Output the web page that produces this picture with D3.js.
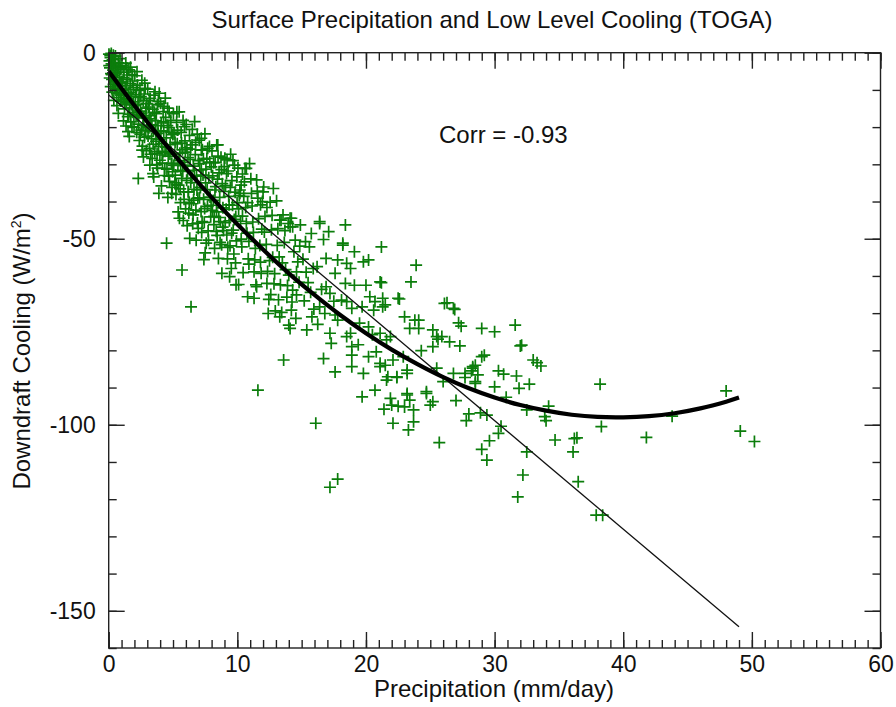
<!DOCTYPE html>
<html>
<head>
<meta charset="utf-8">
<script src="https://cdn.jsdelivr.net/npm/d3@7"></script>
<style>
  body { margin: 0; background: #fff; }
  text { font-family: "Liberation Sans", Arial, Helvetica, sans-serif; fill: #111; }
</style>
</head>
<body>
<div id="chart"></div>
<script>
// axis ticks
var xMajor = [0, 10, 20, 30, 40, 50, 60];
var yMajor = [0, -50, -100, -150];
var xMinor = d3.range(0, 61, 1);
var yMinor = d3.range(0, -161, -10);

// observations [precip (mm/day), downdraft cooling (W/m2)]
var obs = [
  // 0-1
  [0.02,-0.4],[0.06,-2.2],[0.1,-4.1],[0.14,-1.3],[0.18,-5.6],[0.22,-3.0],[0.26,-7.2],[0.3,-1.9],[0.34,-4.7],[0.38,-8.5],
  [0.42,-2.8],[0.46,-6.1],[0.5,-9.6],[0.54,-3.9],[0.58,-7.4],[0.62,-11.0],[0.66,-5.3],[0.7,-8.8],[0.74,-2.7],[0.78,-12.1],
  [0.82,-6.6],[0.86,-10.2],[0.9,-4.4],[0.94,-13.0],[0.98,-7.9],[0.08,-6.8],[0.16,-9.1],[0.28,-10.6],[0.4,-12.8],[0.52,-0.9],
  [0.64,-14.2],[0.75,-16.3],[0.2,-0.2],[0.36,-0.7],[0.88,-1.6],
  [0.04,-3.5],[0.12,-0.8],[0.24,-5.9],[0.32,-3.3],[0.44,-7.8],[0.56,-5.6],[0.68,-9.9],[0.8,-3.6],[0.92,-8.1],[0.96,-11.4],
  // 1-2
  [1.03,-3.4],[1.08,-7.9],[1.13,-12.6],[1.18,-5.2],[1.23,-15.1],[1.28,-9.8],[1.33,-2.8],[1.38,-13.4],[1.43,-7.1],[1.48,-17.2],
  [1.52,-10.9],[1.57,-4.6],[1.62,-14.8],[1.67,-8.3],[1.72,-18.6],[1.77,-11.7],[1.82,-5.9],[1.87,-16.0],[1.92,-9.4],[1.97,-20.1],
  [1.5,-21.2],[1.15,-18.3],[1.35,-19.7],[1.7,-3.9],[1.9,-13.2],[1.25,-11.0],[1.6,-22.5],[1.45,-6.0],
  [1.06,-10.1],[1.16,-6.7],[1.26,-13.8],[1.36,-8.9],[1.46,-12.4],[1.56,-16.5],[1.66,-10.7],[1.76,-14.0],[1.86,-7.6],[1.96,-16.8],
  [1.41,-4.1],[1.81,-19.9],
  // 2-3
  [2.03,-6.2],[2.08,-11.3],[2.13,-16.9],[2.18,-21.4],[2.23,-8.7],[2.28,-13.8],[2.33,-19.2],[2.38,-23.6],[2.43,-10.1],[2.48,-15.7],
  [2.53,-20.8],[2.58,-7.4],[2.63,-25.1],[2.68,-12.9],[2.73,-17.5],[2.78,-22.7],[2.83,-9.6],[2.88,-14.9],[2.93,-26.3],[2.98,-19.9],
  [2.3,-33.8],[2.6,-26.2],[2.7,-28.0],[2.8,-8.2],[2.2,-5.1],[2.5,-11.8],[2.9,-17.0],
  [2.06,-14.2],[2.16,-9.9],[2.26,-17.1],[2.36,-12.0],[2.46,-21.9],[2.56,-16.3],[2.66,-19.5],[2.76,-11.1],[2.86,-21.0],[2.96,-13.7],
  // 3-4
  [3.03,-9.8],[3.08,-14.6],[3.13,-20.2],[3.18,-25.7],[3.23,-12.3],[3.28,-17.8],[3.33,-23.1],[3.38,-28.4],[3.43,-15.2],[3.48,-20.9],
  [3.53,-11.4],[3.58,-26.6],[3.63,-18.3],[3.68,-23.8],[3.73,-30.1],[3.78,-14.0],[3.83,-19.6],[3.88,-25.2],[3.93,-10.9],[3.98,-28.9],
  [3.2,-30.2],[3.6,-10.5],[3.9,-37.8],[3.45,-32.5],[3.7,-16.4],[3.15,-16.9],[3.85,-21.7],
  [3.06,-22.4],[3.16,-12.9],[3.26,-27.3],[3.36,-19.4],[3.46,-24.6],[3.56,-16.0],[3.66,-21.2],[3.76,-27.1],[3.86,-13.1],[3.96,-23.3],
  [3.5,-33.4],[3.8,-31.0],
  // 4-5
  [4.03,-13.6],[4.08,-18.9],[4.13,-24.4],[4.18,-29.7],[4.23,-15.8],[4.28,-21.2],[4.33,-33.0],[4.38,-26.5],[4.43,-17.4],[4.48,-22.9],
  [4.53,-31.3],[4.58,-14.9],[4.63,-27.8],[4.68,-20.1],[4.73,-34.6],[4.78,-24.7],[4.83,-18.2],[4.88,-29.9],[4.93,-36.2],[4.98,-22.0],
  [4.1,-35.8],[4.9,-29.7],[4.9,-37.8],[4.5,-51.2],[4.4,-12.2],[4.7,-16.0],[4.2,-26.8],
  [4.06,-21.0],[4.16,-27.5],[4.26,-18.6],[4.36,-31.1],[4.46,-25.4],[4.56,-19.6],[4.66,-33.2],[4.76,-27.2],[4.86,-21.4],[4.96,-32.0],
  [4.6,-38.9],[4.3,-14.4],
  // 5-6
  [5.03,-16.4],[5.08,-21.8],[5.13,-27.3],[5.18,-32.9],[5.23,-38.1],[5.28,-18.7],[5.33,-24.5],[5.38,-30.2],[5.43,-35.6],[5.48,-15.9],
  [5.53,-27.0],[5.58,-40.3],[5.63,-21.4],[5.68,-33.8],[5.73,-26.1],[5.78,-18.2],[5.83,-37.4],[5.88,-29.5],[5.93,-23.7],[5.98,-42.0],
  [5.3,-15.9],[5.9,-19.9],[5.9,-30.2],[5.7,-58.4],[5.5,-44.5],[5.15,-35.0],[5.6,-31.6],
  [5.06,-30.3],[5.16,-24.1],[5.26,-35.5],[5.36,-20.8],[5.46,-29.0],[5.56,-36.6],[5.66,-24.3],[5.76,-31.9],[5.86,-39.4],[5.96,-26.7],
  [5.4,-42.8],[5.8,-45.1],
  // 6-7
  [6.03,-19.3],[6.08,-25.6],[6.13,-31.8],[6.18,-37.4],[6.23,-43.1],[6.28,-22.2],[6.33,-28.7],[6.38,-34.9],[6.43,-40.6],[6.48,-24.8],
  [6.53,-46.0],[6.58,-30.5],[6.63,-36.7],[6.68,-18.5],[6.73,-27.4],[6.78,-42.3],[6.83,-33.2],[6.88,-21.9],[6.93,-39.1],[6.98,-29.0],
  [6.2,-37.4],[6.3,-49.9],[6.8,-50.4],[6.4,-68.3],[6.5,-20.6],[6.9,-45.8],
  [6.06,-34.3],[6.16,-28.2],[6.26,-40.2],[6.36,-25.9],[6.46,-33.7],[6.56,-43.6],[6.66,-31.6],[6.76,-24.1],[6.86,-36.9],[6.96,-47.2],
  [6.6,-39.6],[6.1,-46.5],
  // 7-8
  [7.03,-23.5],[7.08,-29.8],[7.13,-36.2],[7.18,-42.7],[7.23,-48.3],[7.28,-26.1],[7.33,-32.9],[7.38,-39.4],[7.43,-45.6],[7.48,-21.8],
  [7.53,-35.0],[7.58,-51.2],[7.63,-28.4],[7.68,-41.3],[7.73,-47.9],[7.78,-33.6],[7.83,-25.2],[7.88,-38.8],[7.93,-44.1],[7.98,-30.7],
  [7.2,-23.0],[7.2,-31.5],[7.2,-26.2],[7.7,-25.7],[7.5,-53.8],
  [7.06,-39.0],[7.16,-33.0],[7.26,-45.4],[7.36,-28.6],[7.46,-41.9],[7.56,-31.3],[7.66,-36.8],[7.76,-50.4],[7.86,-29.4],[7.96,-41.0],
  [7.4,-55.6],
  // 8-9
  [8.03,-26.4],[8.08,-33.1],[8.13,-39.7],[8.18,-46.2],[8.23,-52.6],[8.28,-29.5],[8.33,-36.0],[8.38,-42.8],[8.43,-49.1],[8.48,-24.8],
  [8.53,-55.3],[8.58,-32.3],[8.63,-38.9],[8.68,-45.4],[8.73,-28.1],[8.78,-51.6],[8.83,-35.2],[8.88,-41.7],[8.93,-47.8],[8.98,-30.6],
  [8.4,-24.8],[8.8,-59.3],[8.2,-44.0],
  [8.06,-42.4],[8.16,-29.6],[8.26,-36.9],[8.36,-48.0],[8.46,-34.0],[8.56,-44.3],[8.66,-51.0],[8.76,-31.4],[8.86,-46.9],[8.96,-37.3],
  [8.5,-27.8],
  // 9-10
  [9.03,-28.4],[9.08,-35.7],[9.13,-42.1],[9.18,-49.0],[9.23,-55.4],[9.28,-31.8],[9.33,-38.6],[9.38,-45.2],[9.43,-51.9],[9.48,-27.3],
  [9.53,-58.0],[9.58,-34.4],[9.63,-41.0],[9.68,-47.7],[9.73,-54.1],[9.78,-30.2],[9.83,-37.5],[9.88,-44.0],[9.93,-50.6],[9.98,-40.3],
  [9.2,-28.8],[9.4,-60.2],[9.9,-62.4],
  [9.06,-45.7],[9.16,-32.5],[9.26,-52.3],[9.36,-40.9],[9.46,-36.2],[9.56,-48.5],[9.66,-29.0],[9.76,-44.8],[9.86,-56.5],[9.96,-33.4],
  // 10-12
  [10.05,-31.0],[10.15,-38.4],[10.25,-45.3],[10.35,-52.2],[10.45,-59.1],[10.55,-34.7],[10.65,-41.6],[10.75,-48.5],[10.85,-55.4],[10.95,-29.8],
  [10.1,-62.3],[10.3,-35.6],[10.2,-37.8],[10.2,-36.9],[10.6,-31.1],[10.7,-31.1],[10.8,-65.6],[10.4,-43.9],[10.9,-50.7],
  [10.1,-42.0],[10.3,-50.1],[10.5,-38.6],[10.7,-45.9],[10.9,-56.8],[10.4,-32.6],[10.8,-40.3],
  [11.05,-33.9],[11.15,-41.2],[11.25,-48.3],[11.35,-55.7],[11.45,-62.4],[11.55,-37.2],[11.65,-44.6],[11.75,-51.8],[11.85,-59.3],[11.95,-40.0],
  [11.1,-37.8],[11.5,-34.2],[11.5,-62.9],[11.8,-40.9],[11.6,-90.7],[11.3,-66.0],
  [11.2,-45.5],[11.4,-52.6],[11.6,-39.1],[11.8,-56.3],[11.3,-58.9],[11.9,-47.4],
  // 12-14
  [12.05,-36.1],[12.15,-44.0],[12.25,-51.5],[12.35,-58.8],[12.45,-66.3],[12.55,-40.2],[12.65,-47.6],[12.75,-55.0],[12.85,-62.1],[12.95,-69.4],
  [12.0,-37.4],[12.8,-36.5],[12.3,-62.0],[12.4,-70.1],
  [12.1,-48.2],[12.3,-41.6],[12.5,-55.9],[12.7,-43.7],[12.9,-59.4],[12.6,-65.0],
  [13.05,-39.8],[13.15,-47.3],[13.25,-54.9],[13.35,-62.4],[13.45,-69.8],[13.55,-43.6],[13.65,-51.0],[13.75,-58.3],[13.85,-65.7],[13.95,-45.9],
  [13.3,-45.0],[13.3,-71.0],[13.4,-45.0],[13.6,-82.6],
  [13.1,-51.8],[13.5,-56.5],[13.7,-47.8],[13.9,-62.6],[13.2,-66.4],
  // 14-16
  [14.1,-44.5],[14.1,-46.8],[14.3,-46.8],[14.2,-44.5],[14.9,-46.3],[14.5,-50.4],[14.6,-58.9],[14.0,-59.8],[14.3,-63.8],[14.6,-65.1],
  [14.2,-69.2],[14.0,-73.2],[14.1,-74.1],[14.4,-53.5],[14.7,-56.2],[14.8,-61.7],[14.25,-67.0],[14.55,-71.4],[14.85,-52.0],
  [15.3,-50.8],[15.6,-52.2],[15.9,-58.0],[15.8,-71.0],[15.4,-74.5],[15.1,-55.5],[15.5,-61.8],[15.2,-66.7],[15.7,-64.4],[15.95,-68.9],
  [15.35,-59.0],[15.75,-48.6],
  // 16-20
  [16.4,-45.4],[16.4,-45.9],[16.7,-50.2],[16.9,-55.3],[16.9,-62.9],[16.4,-68.3],[16.8,-70.1],[16.7,-82.2],[16.1,-99.6],[16.2,-57.5],
  [16.55,-63.6],[16.25,-73.0],
  [17.1,-48.1],[17.8,-55.7],[17.6,-59.3],[17.2,-64.7],[17.6,-70.5],[17.8,-71.9],[17.2,-75.4],[17.3,-78.1],[17.6,-85.8],[17.2,-116.8],
  [17.8,-114.6],[17.5,-66.8],
  [18.4,-46.3],[18.2,-51.2],[18.2,-51.7],[18.5,-56.6],[18.8,-58.0],[18.1,-66.5],[18.5,-66.9],[18.9,-68.7],[18.5,-76.3],[18.8,-75.4],
  [18.9,-81.3],[18.9,-79.0],[18.9,-84.4],[18.4,-62.0],
  [19.1,-53.5],[19.8,-56.2],[19.1,-62.5],[19.7,-68.3],[19.5,-72.7],[19.8,-86.2],[19.7,-92.5],[19.4,-78.5],
  // 20-24
  [20.2,-55.7],[20.0,-62.5],[20.3,-65.6],[20.7,-66.9],[20.6,-69.2],[20.2,-73.7],[20.2,-81.7],[20.8,-80.4],[20.7,-90.7],[20.5,-75.8],
  [21.2,-52.2],[21.1,-61.6],[21.2,-61.8],[21.3,-66.0],[21.5,-67.8],[21.3,-68.3],[21.1,-75.4],[21.6,-77.2],[21.9,-76.3],[21.1,-83.5],
  [21.6,-88.0],[21.7,-87.1],[21.1,-84.4],[21.5,-84.0],[21.9,-92.9],[21.4,-95.8],
  [22.6,-66.2],[22.5,-66.0],[22.1,-82.6],[22.9,-81.7],[22.4,-87.1],[22.4,-87.3],[22.0,-94.7],[22.5,-95.0],[22.1,-99.6],
  [23.9,-57.1],[23.5,-61.6],[23.0,-71.0],[23.8,-71.9],[24.1,-71.9],[24.1,-74.1],[23.4,-74.1],[23.2,-85.3],[23.2,-86.2],[23.2,-91.6],
  [23.2,-92.0],[23.4,-93.4],[23.7,-96.0],[23.0,-95.2],[23.7,-99.2],[23.3,-101.4],
  // 24-30
  [24.3,-80.1],[24.7,-91.1],[24.7,-91.6],[25.2,-93.8],[25.0,-94.7],[25.2,-74.5],[25.5,-76.3],[25.9,-76.3],[25.6,-77.0],[25.2,-79.0],
  [25.5,-84.8],[25.7,-104.8],[26.0,-88.4],
  [26.3,-67.2],[26.1,-67.4],[26.9,-69.0],[26.8,-68.7],[26.5,-77.7],[26.8,-86.2],[27.0,-93.5],[27.2,-72.6],[27.4,-73.5],[27.3,-78.8],
  [27.7,-86.2],[27.7,-87.3],[27.8,-98.9],[28.0,-97.1],
  [28.3,-84.4],[28.5,-84.0],[28.3,-84.8],[28.2,-85.5],[28.5,-88.4],[28.5,-88.9],[28.7,-86.6],[28.9,-96.8],[29.0,-74.1],[29.0,-81.7],
  [29.2,-81.3],[29.4,-97.4],[29.6,-104.3],[29.0,-106.6],[29.4,-109.5],[30.0,-75.0],[30.3,-85.5],[30.0,-89.8],
  // 30+
  [30.7,-86.4],[30.9,-92.6],[30.5,-100.4],[30.3,-102.3],[31.6,-73.2],[31.7,-86.9],[31.9,-90.2],[31.8,-119.4],[32.0,-78.8],[32.1,-78.6],
  [32.5,-96.0],[32.5,-107.3],[32.2,-113.5],[32.7,-89.1],[33.0,-82.6],[33.3,-83.3],[33.6,-84.2],[33.9,-97.8],[34.0,-98.9],[34.2,-95.0],
  [34.7,-104.1],[36.2,-103.7],[36.1,-107.3],[36.5,-115.3],[36.4,-103.5],[37.9,-124.3],[38.4,-124.3],[38.2,-89.1],[38.3,-100.5],
  [41.8,-103.4],[43.8,-97.7],[48.0,-90.9],[49.1,-101.7],[50.2,-104.5]
];

// linear fit, endpoints
var linFit = [[0, -11.4], [49, -154.3]];

// quadratic fit curve
var quadX = [0, 2, 4, 6, 8, 10, 12, 14, 16, 18, 20, 22, 24, 26, 28, 30, 32, 34, 36, 38, 40, 42, 44, 46, 48, 49];
var quadY = [-5.0, -14.2, -22.9, -31.1, -38.9, -46.1, -52.9, -59.3, -65.1, -70.5, -75.4, -79.8, -83.7, -87.2, -90.2,
             -92.7, -94.7, -96.2, -97.3, -97.9, -98.0, -97.7, -96.9, -95.6, -93.8, -92.7];

var corrText = "Corr = -0.93";

var width = 896, height = 707;
var margin = {left: 108.7, right: 15.5, top: 52.7, bottom: 59};
var pw = width - margin.left - margin.right,
    ph = height - margin.top - margin.bottom;

var svg = d3.select("#chart").append("svg")
    .attr("width", width)
    .attr("height", height);

var x = d3.scaleLinear().domain([0, 60]).range([0, pw]);
var y = d3.scaleLinear().domain([-160, 0]).range([ph, 0]);

var g = svg.append("g")
    .attr("transform", "translate(" + margin.left + "," + margin.top + ")");

// points
var arm = 6;
g.append("g")
    .selectAll("path")
    .data(obs)
    .enter()
    .append("path")
    .attr("d", function (d) {
        var px = x(d[0]), py = y(d[1]);
        return "M" + (px - arm) + "," + py + "H" + (px + arm) + "M" + px + "," + (py - arm) + "V" + (py + arm);
    })
    .attr("stroke", "#0b7d0b")
    .attr("stroke-width", 1.7)
    .attr("fill", "none");

// fits
var line = d3.line().x(function (d) { return x(d[0]); }).y(function (d) { return y(d[1]); });

g.append("path")
    .datum(linFit)
    .attr("d", line)
    .attr("fill", "none")
    .attr("stroke", "#111")
    .attr("stroke-width", 1.3);

g.append("path")
    .datum(quadX.map(function (v, i) { return [v, quadY[i]]; }))
    .attr("d", line.curve(d3.curveCatmullRom))
    .attr("fill", "none")
    .attr("stroke", "#000")
    .attr("stroke-width", 4.2);

// axes: major + minor ticks on all four sides, pointing inward
function plain(d) { return String(d); }

function styleAxis(sel) {
    sel.select(".domain").remove();
    sel.selectAll(".tick line").attr("stroke", "#222").attr("stroke-width", 1.4);
    sel.selectAll(".tick text")
        .style("font-family", "'Liberation Sans', Arial, sans-serif")
        .style("font-size", "23px")
        .attr("fill", "#111");
}

g.append("g").attr("transform", "translate(0," + ph + ")")
    .call(d3.axisBottom(x).tickValues(xMinor).tickSize(-8).tickFormat(""))
    .call(styleAxis);
g.append("g").attr("transform", "translate(0," + ph + ")")
    .call(d3.axisBottom(x).tickValues(xMajor).tickSize(-16).tickPadding(8).tickFormat(plain))
    .call(styleAxis);
g.append("g")
    .call(d3.axisTop(x).tickValues(xMinor).tickSize(-8).tickFormat(""))
    .call(styleAxis);
g.append("g")
    .call(d3.axisTop(x).tickValues(xMajor).tickSize(-16).tickFormat(""))
    .call(styleAxis);

g.append("g")
    .call(d3.axisLeft(y).tickValues(yMinor).tickSize(-8).tickFormat(""))
    .call(styleAxis);
g.append("g")
    .call(d3.axisLeft(y).tickValues(yMajor).tickSize(-16).tickPadding(13).tickFormat(plain))
    .call(styleAxis);
g.append("g").attr("transform", "translate(" + pw + ",0)")
    .call(d3.axisRight(y).tickValues(yMinor).tickSize(-8).tickFormat(""))
    .call(styleAxis);
g.append("g").attr("transform", "translate(" + pw + ",0)")
    .call(d3.axisRight(y).tickValues(yMajor).tickSize(-16).tickFormat(""))
    .call(styleAxis);

// frame
g.append("rect")
    .attr("width", pw)
    .attr("height", ph)
    .attr("fill", "none")
    .attr("stroke", "#222")
    .attr("stroke-width", 1.4);

// texts
svg.append("text")
    .attr("x", 492)
    .attr("y", 28)
    .attr("text-anchor", "middle")
    .style("font-size", "24px")
    .text("Surface Precipitation and Low Level Cooling (TOGA)");

svg.append("text")
    .attr("x", 494)
    .attr("y", 697)
    .attr("text-anchor", "middle")
    .style("font-size", "24px")
    .text("Precipitation (mm/day)");

var yt = svg.append("text")
    .attr("transform", "translate(30," + 351 + ") rotate(-90)")
    .attr("text-anchor", "middle")
    .style("font-size", "24px");
yt.append("tspan").text("Downdraft Cooling (W/m");
yt.append("tspan").attr("dy", -9).style("font-size", "14px").text("2");
yt.append("tspan").attr("dy", 9).text(")");

svg.append("text")
    .attr("x", 439)
    .attr("y", 143)
    .style("font-size", "24px")
    .text(corrText);
</script>
</body>
</html>
